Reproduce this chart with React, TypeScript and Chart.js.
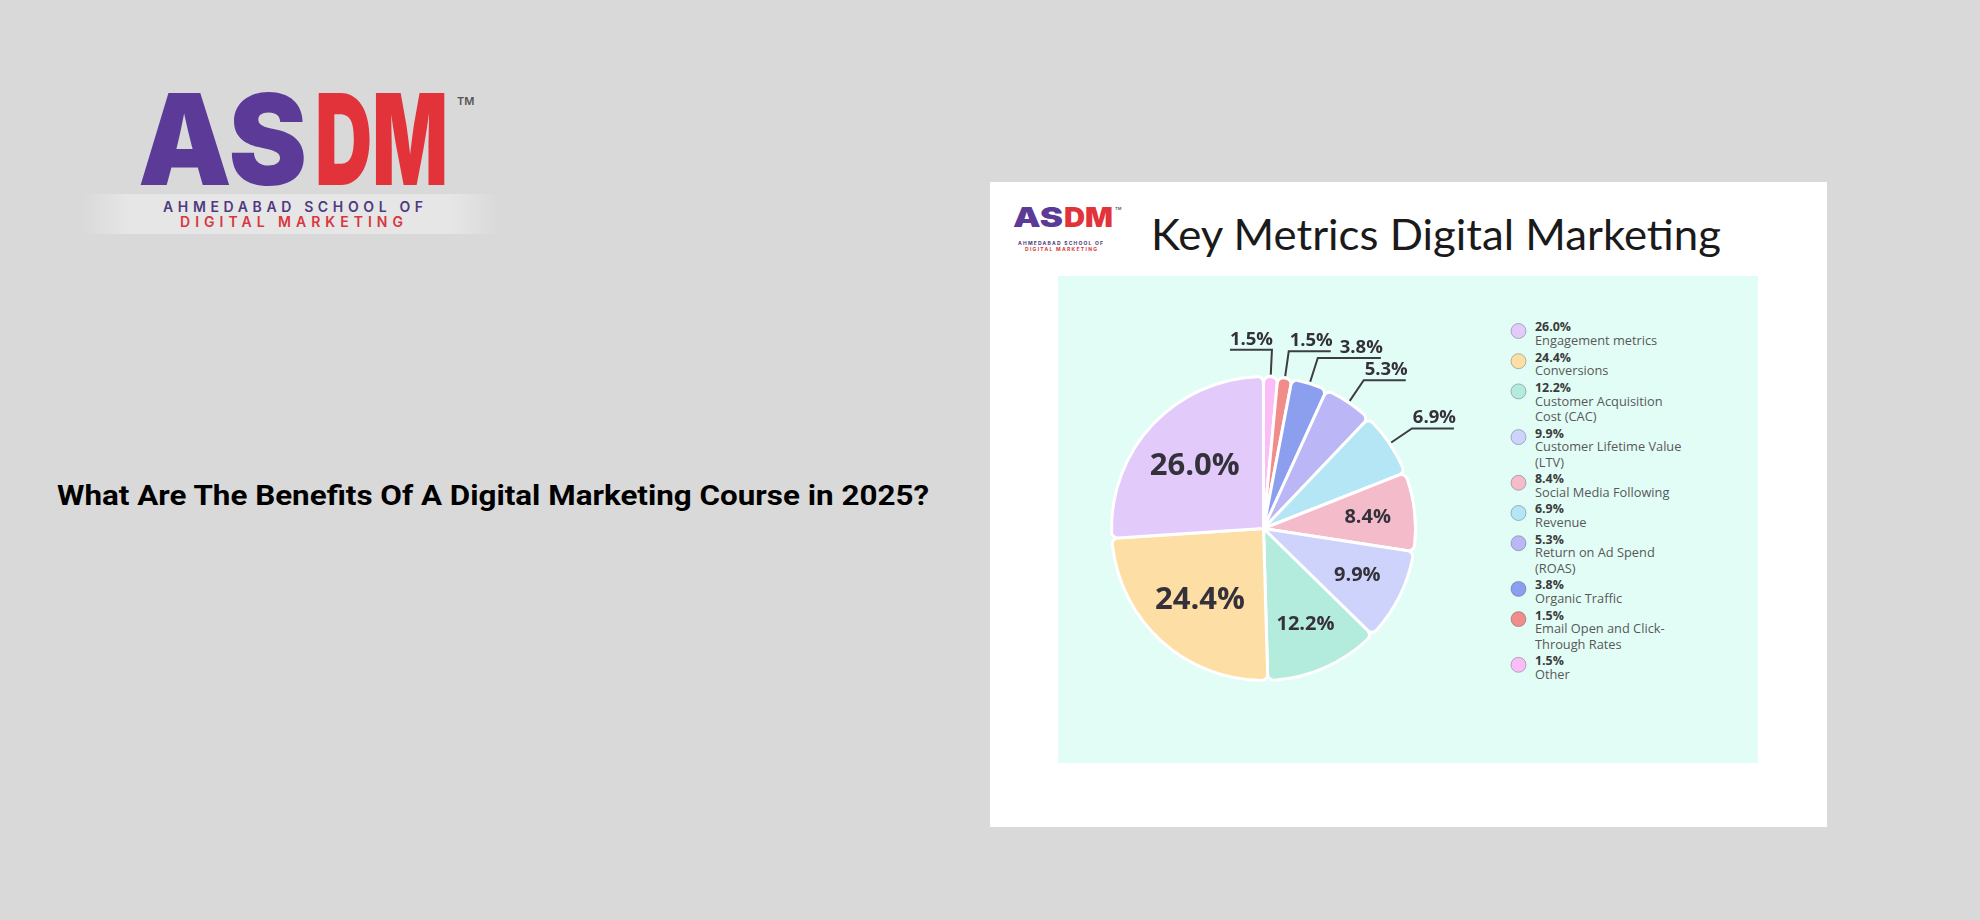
import React, { useEffect, useRef } from "react";
import { Chart, registerables } from "chart.js";

Chart.register(...registerables);

// ---- data (clockwise from 12 o'clock) ----
const categories = [
  "Other",
  "Email Open and Click-Through Rates",
  "Organic Traffic",
  "Return on Ad Spend (ROAS)",
  "Revenue",
  "Social Media Following",
  "Customer Lifetime Value (LTV)",
  "Customer Acquisition Cost (CAC)",
  "Conversions",
  "Engagement metrics",
];
const shares = [1.5, 1.5, 3.8, 5.3, 6.9, 8.4, 9.9, 12.2, 24.4, 26.0];
const sliceColors = [
  "#fbbdf5",
  "#f08c8a",
  "#8c9fef",
  "#bbb6f6",
  "#b4e6f6",
  "#f4bccb",
  "#cdd3fa",
  "#b3ecdc",
  "#fddea4",
  "#e2cbfb",
];
const legendNameLines = [
  ["Other"],
  ["Email Open and Click-", "Through Rates"],
  ["Organic Traffic"],
  ["Return on Ad Spend", "(ROAS)"],
  ["Revenue"],
  ["Social Media Following"],
  ["Customer Lifetime Value", "(LTV)"],
  ["Customer Acquisition", "Cost (CAC)"],
  ["Conversions"],
  ["Engagement metrics"],
];
const headingText = "What Are The Benefits Of A Digital Marketing Course in 2025?";
const chartTitle = "Key Metrics Digital Marketing";

const fmt = (v: number) => v.toFixed(1) + "%";

const labelPlugin = {
  id: "sliceLabels",
  afterDatasetsDraw(chart: any) {
    const ctx = chart.ctx as CanvasRenderingContext2D;
    const meta = chart.getDatasetMeta(0);
    const data = chart.data.datasets[0].data as number[];
    const placed: { l: number; r: number; t: number; b: number }[] = [];
    ctx.save();
    meta.data.forEach((arc: any, i: number) => {
      const p = arc.getProps(["x", "y", "startAngle", "endAngle", "outerRadius"], true);
      const mid = (p.startAngle + p.endAngle) / 2;
      const cos = Math.cos(mid);
      const sin = Math.sin(mid);
      const v = data[i];
      const text = fmt(v);
      ctx.fillStyle = "#35313a";
      if (v >= 8) {
        const big = v > 20;
        const rho = p.outerRadius * (big ? 0.62 : 0.69);
        ctx.font = `700 ${big ? 31 : 20}px "Open Sans", sans-serif`;
        ctx.textAlign = "center";
        ctx.textBaseline = "middle";
        ctx.fillText(text, p.x + rho * cos, p.y + rho * sin + (big ? 2 : 0));
      } else {
        const r0 = p.outerRadius + 2;
        const r1 = p.outerRadius + 27;
        const sx = p.x + r0 * cos;
        const sy = p.y + r0 * sin;
        const ex = p.x + r1 * cos;
        const ey = p.y + r1 * sin;
        ctx.font = `700 18.5px "Open Sans", sans-serif`;
        const w = ctx.measureText(text).width;
        const capH = 13.5;
        const baseY = ey - 5;
        let fromTop = mid + Math.PI / 2;
        while (fromTop < 0) fromTop += Math.PI * 2;
        const goLeft = cos < 0 || fromTop < (5 * Math.PI) / 180;
        let lineEnd: number;
        let box: { l: number; r: number; t: number; b: number };
        if (goLeft) {
          lineEnd = ex - 42;
          box = { l: lineEnd, r: lineEnd + w, t: baseY - capH, b: baseY };
        } else {
          lineEnd = ex + 42;
          box = { l: lineEnd + 2 - w, r: lineEnd + 2, t: baseY - capH, b: baseY };
          for (const pb of placed) {
            const vOver = box.t < pb.b && box.b > pb.t;
            const hOver = box.l < pb.r + 4 && box.r > pb.l;
            if (vOver && hOver) {
              lineEnd = Math.max(lineEnd, pb.r + 7 + w - 2);
              box = { l: lineEnd + 2 - w, r: lineEnd + 2, t: box.t, b: box.b };
            }
          }
        }
        placed.push(box);
        ctx.strokeStyle = "#3d3d42";
        ctx.lineWidth = 2;
        ctx.beginPath();
        ctx.moveTo(sx, sy);
        ctx.lineTo(ex, ey);
        ctx.lineTo(lineEnd, ey);
        ctx.stroke();
        ctx.textAlign = "left";
        ctx.textBaseline = "alphabetic";
        ctx.fillText(text, box.l, baseY);
      }
    });
    ctx.restore();
  },
};

function PieChart() {
  const ref = useRef<HTMLCanvasElement | null>(null);
  useEffect(() => {
    if (!ref.current) return;
    const chart = new Chart(ref.current, {
      type: "pie",
      data: {
        labels: categories,
        datasets: [
          {
            data: shares,
            backgroundColor: sliceColors,
            borderColor: "#ffffff",
            borderWidth: 3,
            borderRadius: 6,
          },
        ],
      },
      options: {
        responsive: false,
        animation: false,
        devicePixelRatio: 1,
        layout: { padding: { left: 52, top: 99, right: 341, bottom: 81 } },
        plugins: {
          legend: { display: false },
          tooltip: { enabled: false },
          title: { display: false },
        },
      },
      plugins: [labelPlugin],
    } as any);
    return () => chart.destroy();
  }, []);
  return (
    <canvas
      ref={ref}
      width={700}
      height={487}
      style={{ position: "absolute", left: 1058, top: 276, width: 700, height: 487 }}
    />
  );
}

function Legend() {
  const items: React.ReactNode[] = [];
  let y = 327; // center of first percent line
  const order = shares.map((_, i) => i).reverse();
  order.forEach((idx, k) => {
    if (k > 0) y += 16.7;
    const pctY = y;
    items.push(
      <circle key={"m" + idx} cx={1518.5} cy={pctY + 4} r={7.5} fill={sliceColors[idx]} stroke="rgba(60,60,90,0.35)" strokeWidth={1} />
    );
    items.push(
      <text key={"p" + idx} x={1535} y={pctY + 4.4} fontFamily='"Open Sans", sans-serif' fontWeight={700} fontSize={12.4} fill="#3b3b3b">
        {fmt(shares[idx])}
      </text>
    );
    legendNameLines[idx].forEach((line, j) => {
      y += j === 0 ? 13.5 : 15.5;
      items.push(
        <text key={"n" + idx + "_" + j} x={1535} y={y + 4.6} fontFamily='"Open Sans", sans-serif' fontSize={12.8} fill="#585858">
          {line}
        </text>
      );
    });
  });
  return <g>{items}</g>;
}

export default function App() {
  return (
    <div
      style={{
        position: "fixed",
        left: 0,
        top: 0,
        width: 1980,
        height: 920,
        background: "#d9d9d9",
        overflow: "hidden",
      }}
    >
      <svg width={1980} height={920} style={{ position: "absolute", left: 0, top: 0 }}>
        <defs>
          <linearGradient id="band" x1="0" x2="1" y1="0" y2="0">
            <stop offset="0" stopColor="#ffffff" stopOpacity={0} />
            <stop offset="0.12" stopColor="#ffffff" stopOpacity={0.35} />
            <stop offset="0.88" stopColor="#ffffff" stopOpacity={0.35} />
            <stop offset="1" stopColor="#ffffff" stopOpacity={0} />
          </linearGradient>
        </defs>
        {/* big logo */}
        <rect x={80} y={194} width={420} height={40} fill="url(#band)" />
        <text x={138} y={185} fontFamily="Inter, sans-serif" fontWeight={900} fontSize={126} fill="#5b3b97" textLength={169} lengthAdjust="spacingAndGlyphs">AS</text>
        <text x={315} y={185} fontFamily="Inter, sans-serif" fontWeight={900} fontSize={126} fill="#e2323a" textLength={133} lengthAdjust="spacingAndGlyphs">DM</text>
        <text x={457} y={105} fontFamily="Inter, sans-serif" fontWeight={600} fontSize={11} fill="#555">TM</text>
        <text x={163} y={212} fontFamily="Inter, sans-serif" fontWeight={600} fontSize={14} fill="#4f3a80" textLength={260} lengthAdjust="spacing">AHMEDABAD SCHOOL OF</text>
        <text x={180} y={227} fontFamily="Inter, sans-serif" fontWeight={600} fontSize={14} fill="#d9363e" textLength={223} lengthAdjust="spacing">DIGITAL MARKETING</text>

        {/* heading */}
        <text x={57} y={505} fontFamily="Roboto, sans-serif" fontWeight={700} fontSize={28} fill="#000" textLength={872} lengthAdjust="spacingAndGlyphs">{headingText}</text>

        {/* card */}
        <rect x={990} y={182} width={837} height={645} fill="#ffffff" />
        <rect x={1058} y={276} width={700} height={487} fill="#e2fdf6" />

        {/* small logo */}
        <text x={1013} y={227} fontFamily="Inter, sans-serif" fontWeight={900} fontSize={27} fill="#5b3b97" textLength={50} lengthAdjust="spacingAndGlyphs">AS</text>
        <text x={1064} y={227} fontFamily="Inter, sans-serif" fontWeight={900} fontSize={27} fill="#e2323a" textLength={49} lengthAdjust="spacingAndGlyphs">DM</text>
        <text x={1115} y={210} fontFamily="Inter, sans-serif" fontWeight={600} fontSize={4} fill="#555">TM</text>
        <text x={1018} y={245} fontFamily="Inter, sans-serif" fontWeight={700} fontSize={5} fill="#4a3a78" textLength={85} lengthAdjust="spacing">AHMEDABAD SCHOOL OF</text>
        <text x={1025} y={251} fontFamily="Inter, sans-serif" fontWeight={700} fontSize={5} fill="#d23a3a" textLength={72} lengthAdjust="spacing">DIGITAL MARKETING</text>

        {/* chart title */}
        <text x={1151} y={250} fontFamily="Lato, sans-serif" fontWeight={400} fontSize={42} fill="#1a1a1a" textLength={570} lengthAdjust="spacingAndGlyphs">{chartTitle}</text>

        <Legend />
      </svg>
      <PieChart />
    </div>
  );
}
